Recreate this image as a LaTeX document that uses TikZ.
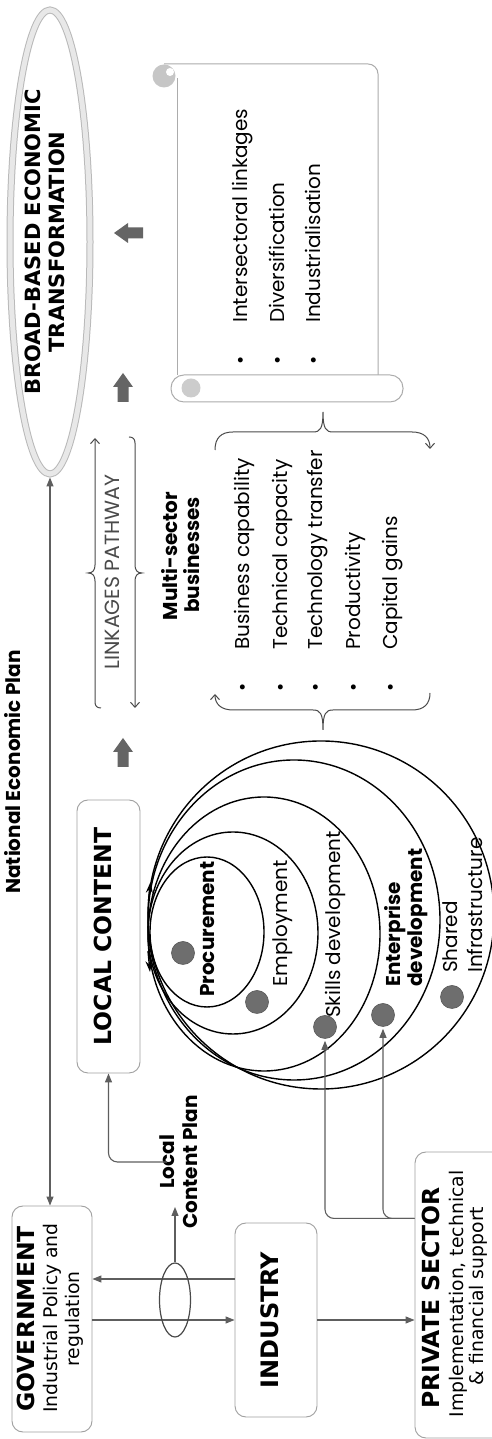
\documentclass[tikz,border=0pt]{standalone}
\usepackage{fontspec}
\setmainfont{Poppins}
\newfontfamily\dejavu{DejaVu Sans}
\usetikzlibrary{arrows.meta, shapes.geometric, calc}

\definecolor{linegray}{HTML}{5E5E5E}
\definecolor{boxgray}{HTML}{A0A0A0}
\definecolor{blockgray}{HTML}{656565}
\definecolor{dotgray}{HTML}{6E6E6E}
\definecolor{pathgray}{HTML}{4A4A4A}

\tikzset{
  conn/.style={draw=linegray, line width=1.1pt, -{Triangle[length=9pt,width=7pt]}},
  rbox/.style={draw=boxgray, line width=0.9pt, rounded corners=11pt, fill=white, inner sep=0pt},
  txtbox/.style={inner sep=0pt, text height=0.75em, text depth=0.25em},
  ttl/.style={txtbox, font=\dejavu\bfseries\fontsize{23.5}{26}\selectfont},
  bodytxt/.style={txtbox, font=\dejavu\fontsize{18.8}{22}\selectfont},
  lbltxt/.style={txtbox, anchor=west, font=\fontsize{20}{22}\selectfont},
  lblb/.style={txtbox, font=\bfseries\fontsize{20}{22}\selectfont},
  bulletmark/.style={txtbox, font=\fontsize{20}{22}\selectfont},
  nest/.style={draw=black, line width=1.4pt},
  pdot/.style={circle, fill=dotgray, draw=dotgray!80!black, line width=0.6pt, minimum size=23pt, inner sep=0pt},
  bracepath/.style={draw=pathgray, line width=1pt, -{Straight Barb[length=5pt,width=9pt]}},
  scrollline/.style={draw=gray!65, line width=1pt},
  blockarrow/.pic={\fill[blockgray] (0,5.5) -- (15,5.5) -- (15,10) -- (29,0) -- (15,-10) -- (15,-5.5) -- (0,-5.5) -- cycle;}
}

\begin{document}
\begin{tikzpicture}[x=1pt, y=1pt]
\useasboundingbox (0,0) rectangle (492,1439);
\clip (0,0) rectangle (492,1439);
\fill[white] (0,0) rectangle (492,1439);
\begin{scope}[rotate=90, transform shape]

% outcome ring
\node[ellipse, draw=gray!55, double=gray!18, double distance=5pt, line width=1pt,
      minimum width=464pt, minimum height=80pt, outer sep=3.5pt, inner sep=0pt] (bbet) at (1197,-50) {};
\node[ttl, font=\dejavu\bfseries\fontsize{21}{24}\selectfont] (bbet1) at (1197,-38) {BROAD-BASED ECONOMIC};
\node[ttl, font=\dejavu\bfseries\fontsize{21}{24}\selectfont] (bbet2) at (1197,-62) {TRANSFORMATION};

% actors
\node[rbox, minimum width=226pt, minimum height=80pt] (gov) at (120,-52) {};
\node[ttl] (govt) at (120,-32) {GOVERNMENT};
\node[bodytxt] (govb1) at (121,-55) {Industrial Policy and};
\node[bodytxt] (govb2) at (120,-77) {regulation};

\node[rbox, minimum width=194pt, minimum height=82pt] (ind) at (119,-276) {};
\node[ttl, font=\dejavu\bfseries\fontsize{24}{26}\selectfont] (indt) at (119,-276) {INDUSTRY};

\node[rbox, minimum width=286pt, minimum height=110pt] (priv) at (144,-470) {};
\node[ttl] (privt) at (141,-437) {PRIVATE SECTOR};
\node[bodytxt] (privb1) at (145,-461) {Implementation, technical};
\node[bodytxt] (privb2) at (143,-481) {\& financial support};

\node[rbox, minimum width=273pt, minimum height=63pt] (lc) at (502.5,-108.5) {};
\node[ttl] (lct) at (502.5,-108.5) {LOCAL CONTENT};

% national plan link
\draw[conn, {Triangle[length=9pt,width=7pt]}-{Triangle[length=9pt,width=7pt]}] (gov.east |- bbet.west) -- (bbet.west);
\node[lblb] (nep) at (667,-18) {National Economic Plan};

% government <-> industry -> private sector
\draw[conn] ($(ind.north)+(41,0)$) -- ($(gov.south)+(40,0)$);
\draw[conn] (gov.south -| ind.north) -- (ind.north);
\draw[conn] (ind.south) -- (ind.south |- priv.north);

% local content plan
\node[ellipse, draw=pathgray, line width=1.2pt, minimum width=74pt, minimum height=31pt, inner sep=0pt] (loop) at (139,-175) {};
\coordinate (lcparrow) at (232,-175);
\draw[conn] (loop.east) -- (lcparrow);
\node[lblb] (lcp1) at (277,-172) {Local};
\node[lblb] (lcp2) at (277,-195) {Content Plan};
\draw[conn, rounded corners=9pt] (lcp1.north) |- (lc.west);

% block arrows
\pic at (672,-123) {blockarrow};
\pic at (1037,-123) {blockarrow};
\pic[rotate=90] at (1206,-143) {blockarrow};

% linkages pathway
\node[txtbox, font=\fontsize{20.5}{22}\selectfont, text=pathgray] (link) at (867,-117) {LINKAGES PATHWAY};
\draw[bracepath] (731,-101) .. controls (731,-97) and (733,-95) .. (737,-95) -- (858,-95)
  .. controls (863,-95) and (866,-93) .. (866,-88) .. controls (866,-93) and (869,-95) .. (874,-95) -- (1001,-95);
\draw[bracepath] (1002,-129) .. controls (1002,-133) and (1000,-135) .. (996,-135) -- (874,-135)
  .. controls (869,-135) and (866,-137) .. (866,-142) .. controls (866,-137) and (863,-135) .. (858,-135) -- (731,-135);

% multi-sector businesses
\node[lblb] (ms1) at (883,-175) {Multi-sector};
\node[lblb] (ms2) at (884,-197) {businesses};
\foreach \v/\txt [count=\i] in {-247/Business capability, -285/Technical capacity, -320/Technology transfer, -358/Productivity, -395/Capital gains} {
  \node[bulletmark] (mb\i) at (752,\v) {\textbullet};
  \node[lbltxt] (mi\i) at (789,\v) {\txt};
}
\draw[bracepath] (989,-215) .. controls (1001,-215) and (1007,-221) .. (1007,-233) -- (1007,-313)
  .. controls (1007,-320) and (1010,-323) .. (1027,-323) .. controls (1010,-323) and (1007,-326) .. (1007,-333)
  -- (1007,-412) .. controls (1007,-424) and (1001,-430) .. (990,-430);
\draw[bracepath] (746,-430) .. controls (735,-430) and (729,-424) .. (729,-412) -- (729,-333)
  .. controls (729,-326) and (726,-323) .. (709,-323) .. controls (726,-323) and (729,-320) .. (729,-313)
  -- (729,-233) .. controls (729,-221) and (735,-215) .. (745,-215);

% scroll
\draw[scrollline, rounded corners=10pt] (1375,-164) -- (1375,-378) -- (1064,-378);
\draw[scrollline] (1064,-177) -- (1361,-177);
\fill[gray!45] (1363,-164) circle (11.5);
\fill[white] (1367,-170) circle (4);
\draw[scrollline, fill=white, rounded corners=13pt] (1037,-171) rectangle (1064,-403);
\fill[gray!40] (1051,-191) circle (9.5);
\foreach \v/\txt [count=\i] in {-245/Intersectoral linkages, -282/Diversification, -318/Industrialisation} {
  \node[bulletmark] (sb\i) at (1079,\v) {\textbullet};
  \node[lbltxt] (si\i) at (1116,\v) {\txt};
}

% nested local content areas
\draw[nest] (524,-321) ellipse [x radius=174, y radius=173];
\draw[nest] (519,-294) ellipse [x radius=160, y radius=146];
\draw[nest] (505,-264) ellipse [x radius=137, y radius=116];
\draw[nest] (506,-233) ellipse [x radius=101, y radius=85];
\draw[nest] (507,-207) ellipse [x radius=75, y radius=57];
\draw[nest, -{Stealth[length=11pt,width=7pt]}] (538,-148.5) -- (557,-150.5);
\draw[nest, -{Stealth[length=11pt,width=7pt]}] (488,-148) -- (467,-150);

\node[pdot] (dpro) at (486,-183) {};
\node[pdot] (demp) at (437,-257) {};
\node[pdot] (dski) at (412,-325) {};
\node[pdot] (dent) at (424,-383) {};
\node[pdot] (dsha) at (442,-452) {};

\node[lblb, anchor=west] (lpro) at (442,-212) {Procurement};
\node[lbltxt] (lemp) at (452,-285) {Employment};
\node[lbltxt] (lski) at (421,-338) {Skills development};
\node[lblb, anchor=west] (lent1) at (452,-398) {Enterprise};
\node[lblb, anchor=west] (lent2) at (452,-420) {development};
\node[lbltxt] (lsha1) at (466,-455) {Shared};
\node[lbltxt] (lsha2) at (466,-480) {Infrastructure};

% private sector support
\draw[conn, rounded corners=9pt, shorten >=2pt] ($(priv.north west)+(220,0)$) |- (dski.west);
\draw[conn, rounded corners=9pt, shorten >=2pt] ($(priv.north west)+(220,0)$) |- (dent.west);

\end{scope}
\end{tikzpicture}
\end{document}
